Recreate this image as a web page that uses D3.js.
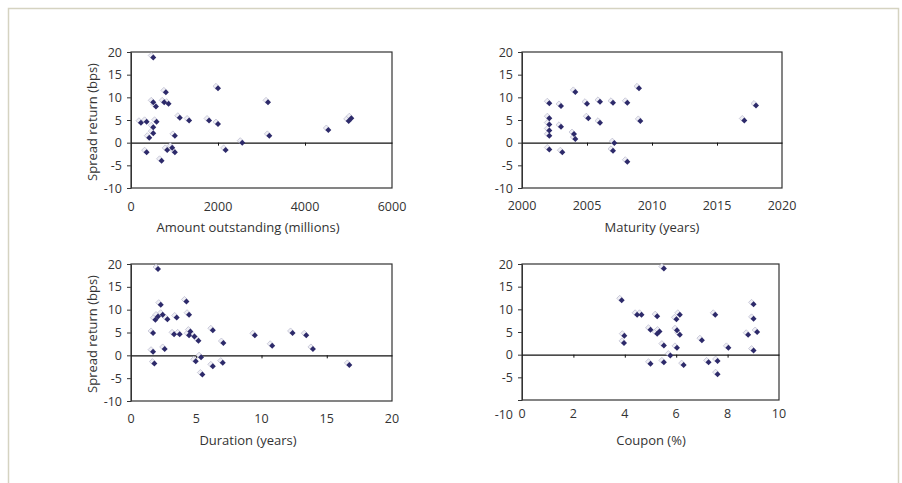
<!DOCTYPE html>
<html>
<head>
<meta charset="utf-8">
<script src="https://cdn.jsdelivr.net/npm/d3@7"></script>
<style>
  body { margin: 0; background: #fff; }
  text { font-family: "Open Sans", "DejaVu Sans", sans-serif; fill: #333; }
</style>
</head>
<body>
<script>
// values
var amountX = [229, 359, 511, 511, 573, 588, 511, 511, 420, 359, 702, 763, 802, 863, 832, 947, 1008, 1008, 1122, 1336, 1794, 2000, 2000, 2176, 2557, 3150, 3180, 4536, 5004, 5065];
var amountY = [4.4, 4.6, 18.8, 8.9, 8.0, 4.6, 3.4, 2.1, 1.1, -2.1, -4.0, 8.9, 11.1, 8.6, -1.6, -1.1, -2.1, 1.5, 5.5, 4.9, 4.9, 12.0, 4.1, -1.6, 0.0, 8.9, 1.5, 2.8, 4.8, 5.4];

var maturityX = [2002.1, 2002.1, 2002.1, 2002.1, 2002.1, 2002.1, 2003.0, 2003.0, 2003.1, 2004.1, 2004.0, 2004.1, 2005.0, 2005.1, 2006.0, 2006.0, 2007.0, 2007.1, 2007.0, 2008.1, 2008.1, 2009.0, 2009.1, 2017.1, 2018.0];
var maturityY = [8.7, 5.4, 4.0, 2.7, 1.5, -1.5, 8.1, 3.5, -2.1, 11.2, 1.9, 0.8, 8.6, 5.4, 9.0, 4.4, 8.8, -0.1, -1.8, 8.8, -4.2, 12.0, 4.8, 4.9, 8.2];

var durationX = [2.07, 1.69, 1.69, 1.79, 1.87, 2.07, 2.28, 2.43, 2.58, 2.79, 3.30, 3.50, 3.73, 4.25, 4.45, 4.45, 4.55, 4.86, 5.17, 4.96, 5.37, 5.47, 6.27, 6.27, 7.08, 7.03, 9.49, 10.82, 12.38, 13.43, 13.94, 16.73];
var durationY = [18.9, 4.9, 0.8, -1.8, 7.8, 8.5, 11.1, 8.9, 1.4, 7.9, 4.6, 8.3, 4.6, 11.8, 8.9, 4.4, 5.2, 4.1, 3.2, -1.3, -0.4, -4.2, 5.5, -2.4, 2.7, -1.6, 4.4, 2.1, 4.9, 4.4, 1.4, -2.1];

var couponX = [5.52, 3.88, 3.98, 3.97, 4.48, 4.65, 5.00, 5.00, 5.26, 5.26, 5.35, 5.52, 5.52, 5.77, 6.01, 6.03, 6.14, 6.14, 6.03, 6.29, 7.00, 7.26, 7.52, 7.61, 7.61, 8.03, 8.80, 9.01, 9.01, 9.01, 9.15];
var couponY = [19.0, 12.0, 4.2, 2.6, 8.8, 8.8, 5.5, -2.0, 8.5, 4.6, 5.1, 2.0, -1.7, -0.2, 7.8, 5.4, 8.8, 4.4, 1.5, -2.3, 3.2, -1.7, 8.8, -1.4, -4.3, 1.5, 4.4, 11.1, 7.9, 0.9, 5.0];

var yTicks = [-10, -5, 0, 5, 10, 15, 20];
var amountTicks = [0, 2000, 4000, 6000];
var maturityTicks = [2000, 2005, 2010, 2015, 2020];
var durationTicks = [0, 5, 10, 15, 20];
var couponTicks = [0, 2, 4, 6, 8, 10];

var width = 902, height = 483;
var tickFont = 12.5, titleFont = 13;

var svg = d3.select("body").append("svg")
    .attr("width", width)
    .attr("height", height);

// outer frame
svg.append("rect")
    .attr("x", 8.5).attr("y", 8.5)
    .attr("width", 890).attr("height", 490)
    .attr("fill", "none")
    .attr("stroke", "#d5d3c1")
    .attr("stroke-width", 1.5);

var panels = [
  { xs: amountX, ys: amountY, ticks: amountTicks, title: "Amount outstanding (millions)",
    left: 131, right: 392, top: 52, bottom: 188, labelY: 207, titleX: 248, titleY: 227, yTitle: [92, 122], lowShift: 0 },
  { xs: maturityX, ys: maturityY, ticks: maturityTicks, title: "Maturity (years)",
    left: 522, right: 782, top: 52, bottom: 188, labelY: 206, titleX: 652, titleY: 227, yTitle: null, lowShift: 0 },
  { xs: durationX, ys: durationY, ticks: durationTicks, title: "Duration (years)",
    left: 131, right: 392, top: 264, bottom: 401, labelY: 419, titleX: 248, titleY: 440, yTitle: [92, 334], lowShift: 0 },
  { xs: couponX, ys: couponY, ticks: couponTicks, title: "Coupon (%)",
    left: 522, right: 779, top: 264, bottom: 400, labelY: 414, titleX: 651, titleY: 440, yTitle: null, lowShift: 14 }
];

var diamond = d3.symbol().type(d3.symbolSquare).size(18);
var plain = function (d) { return String(d); };   // hyphen minus, like the original

panels.forEach(function (p) {
    var x = d3.scaleLinear()
        .domain(d3.extent(p.ticks))
        .range([p.left, p.right]);
    var y = d3.scaleLinear()
        .domain(d3.extent(yTicks))
        .range([p.bottom, p.top]);

    var g = svg.append("g");

    // plot area border
    g.append("rect")
        .attr("x", p.left).attr("y", p.top)
        .attr("width", p.right - p.left).attr("height", p.bottom - p.top)
        .attr("fill", "none")
        .attr("stroke", "#333")
        .attr("stroke-width", 1.2);

    // y axis
    var ya = g.append("g")
        .attr("transform", "translate(" + p.left + ",0)")
        .call(d3.axisLeft(y).tickValues(yTicks).tickFormat(plain).tickSize(4).tickPadding(5).tickSizeOuter(0));
    ya.select(".domain").attr("stroke", "#333");
    ya.selectAll(".tick line").attr("stroke", "#333");
    ya.selectAll("text")
        .style("font-size", tickFont + "px")
        .attr("fill", "#333")
        .attr("dy", function (d) { return (d === -10 && p.lowShift) ? (0.32 * tickFont + p.lowShift) + "px" : "0.32em"; });

    // zero line with downward ticks
    var za = g.append("g")
        .attr("transform", "translate(0," + y(0) + ")")
        .call(d3.axisBottom(x).tickValues(p.ticks.slice(1, -1)).tickSize(3).tickSizeOuter(0).tickFormat(""));
    za.select(".domain").attr("stroke", "#111").attr("stroke-width", 1.2);
    za.selectAll(".tick line").attr("stroke", "#111");

    // x tick labels at bottom
    g.selectAll(".xlab")
        .data(p.ticks)
        .enter().append("text")
        .attr("class", "xlab")
        .attr("x", function (d) { return x(d); })
        .attr("y", p.labelY)
        .attr("dy", "0.35em")
        .attr("text-anchor", "middle")
        .style("font-size", tickFont + "px")
        .text(plain);

    g.append("text")
        .attr("x", p.titleX).attr("y", p.titleY)
        .attr("dy", "0.35em")
        .attr("text-anchor", "middle")
        .style("font-size", titleFont + "px")
        .text(p.title);

    if (p.yTitle) {
        g.append("text")
            .attr("transform", "translate(" + p.yTitle[0] + "," + p.yTitle[1] + ") rotate(-90)")
            .attr("dy", "0.35em")
            .attr("text-anchor", "middle")
            .style("font-size", titleFont + "px")
            .text("Spread return (bps)");
    }

    var pts = p.xs.map(function (v, i) { return [v, p.ys[i]]; });

    // faint shadows up-left of each marker
    g.selectAll(".shadow")
        .data(pts)
        .enter().append("path")
        .attr("class", "shadow")
        .attr("d", diamond)
        .attr("transform", function (d) { return "translate(" + (x(d[0]) - 2) + "," + (y(d[1]) - 2) + ") rotate(45)"; })
        .attr("fill", "#efeff5")
        .attr("stroke", "#b2b2c8")
        .attr("stroke-width", 0.6);

    g.selectAll(".mark")
        .data(pts)
        .enter().append("path")
        .attr("class", "mark")
        .attr("d", diamond)
        .attr("transform", function (d) { return "translate(" + x(d[0]) + "," + y(d[1]) + ") rotate(45)"; })
        .attr("fill", "#2d2a6a");
});
</script>
</body>
</html>
